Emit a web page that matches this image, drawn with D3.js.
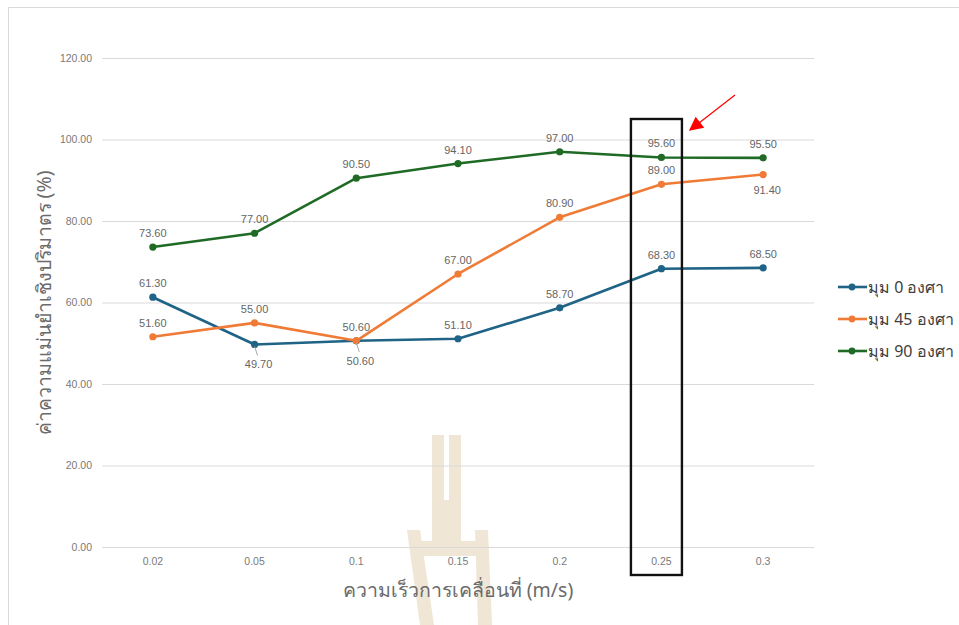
<!DOCTYPE html>
<html>
<head>
<meta charset="utf-8">
<script src="https://cdn.jsdelivr.net/npm/d3@7/dist/d3.min.js"></script>
<style>
  html, body { margin: 0; padding: 0; background: #fff; }
  svg { display: block; }
</style>
</head>
<body>
<svg id="chart" width="959" height="625"></svg>
<script>
// Speeds on the x axis (m/s)
const categories = ["0.02", "0.05", "0.1", "0.15", "0.2", "0.25", "0.3"];
// Series names
const seriesNames = ["มุม 0 องศา", "มุม 45 องศา", "มุม 90 องศา"];
// Volumetric accuracy (%) per series
const angle0 = [61.3, 49.7, 50.6, 51.1, 58.7, 68.3, 68.5];
const angle45 = [51.6, 55.0, 50.6, 67.0, 80.9, 89.0, 91.4];
const angle90 = [73.6, 77.0, 90.5, 94.1, 97.0, 95.6, 95.5];
// Y tick values
const yTicks = [0, 20, 40, 60, 80, 100, 120];
const highlighted = "0.25";

const colors = ["#1f6386", "#ef7b36", "#1f6b26"];
// where each data label sits relative to its point
const labelSide = [
  ["up", "down", "down", "up", "up", "up", "up"],
  ["up", "up", "up", "up", "up", "up", "down"],
  ["up", "up", "up", "up", "up", "up", "up"]
];

const svg = d3.select("#chart");
const W = 959, H = 625;

const x = d3.scaleBand().domain(categories).range([102, 814]);
const y = d3.scaleLinear().domain([0, 120]).range([547, 58]);

// chart frame
svg.append("path")
  .attr("d", `M8.5,${H} V7.5 H${W}`)
  .attr("fill", "none").attr("stroke", "#d9d9d9").attr("stroke-width", 1);

// faint emblem watermark behind the plot
const wm = svg.append("g").attr("fill", "#efe6d6");
wm.append("rect").attr("x", 432).attr("y", 435).attr("width", 12).attr("height", 106);
wm.append("rect").attr("x", 449).attr("y", 435).attr("width", 12).attr("height", 106);
wm.append("rect").attr("x", 432).attr("y", 500).attr("width", 29).attr("height", 41);
wm.append("polygon").attr("points", "407,530 420,530 434,625 420,625");
wm.append("polygon").attr("points", "475,530 488,530 492,625 478,625");
wm.append("rect").attr("x", 415).attr("y", 541).attr("width", 70).attr("height", 15);

// gridlines + y tick labels
const yAxis = d3.axisLeft(y).tickValues(yTicks).tickFormat(d3.format(".2f"))
  .tickSize(-(814 - 102)).tickPadding(10);
const gy = svg.append("g").attr("transform", "translate(102,0)").call(yAxis);
gy.select(".domain").remove();
gy.selectAll(".tick line").attr("stroke", "#d9d9d9").attr("stroke-width", 1);
gy.selectAll(".tick text")
  .attr("fill", "#7a7a7a").style("font-family", "Liberation Sans, Arial, sans-serif")
  .style("font-size", "10.5px");

// x tick labels
const xAxis = d3.axisBottom(x).tickSize(0).tickPadding(11);
const gx = svg.append("g").attr("transform", "translate(0,547)").call(xAxis);
gx.select(".domain").remove();
gx.selectAll(".tick text")
  .attr("fill", "#7a7a7a").style("font-family", "Liberation Sans, Arial, sans-serif")
  .style("font-size", "10.5px");

// axis titles
svg.append("text")
  .attr("x", 458).attr("y", 597).attr("text-anchor", "middle")
  .attr("fill", "#6b6b6b").style("font-family", "Noto Sans, sans-serif").style("font-size", "19.5px")
  .text("ความเร็วการเคลื่อนที่ (m/s)");
svg.append("text")
  .attr("transform", "translate(51,303) rotate(-90)").attr("text-anchor", "middle")
  .attr("fill", "#6b6b6b").style("font-family", "Noto Sans, sans-serif").style("font-size", "19.5px")
  .text("ค่าความแม่นยำเชิงปริมาตร (%)");

const allSeries = [angle0, angle45, angle90];
const cx = d => x(d) + x.bandwidth() / 2;
const line = d3.line().x((d, i) => cx(categories[i])).y(d => y(d));

// lines and markers
allSeries.forEach((vals, s) => {
  const g = svg.append("g");
  g.append("path").datum(vals).attr("d", line)
    .attr("fill", "none").attr("stroke", colors[s]).attr("stroke-width", 2.6)
    .attr("stroke-linejoin", "round");
  g.selectAll("circle").data(vals).join("circle")
    .attr("cx", (d, i) => cx(categories[i])).attr("cy", d => y(d)).attr("r", 3.6)
    .attr("fill", colors[s]);
});

// data labels
allSeries.forEach((vals, s) => {
  vals.forEach((v, i) => {
    const px = cx(categories[i]), py = y(v);
    const side = labelSide[s][i];
    const moved = side === "down" && s === 0;
    const lx = px + (side === "down" ? 4 : 0);
    const ly = side === "down" ? py + (moved ? 24 : 19) : py - 10;
    if (moved) {
      svg.append("line").attr("x1", px).attr("y1", py + 2).attr("x2", px + 3).attr("y2", py + 11)
        .attr("stroke", "#a6a6a6").attr("stroke-width", 1);
    }
    svg.append("text").attr("x", lx).attr("y", ly).attr("text-anchor", "middle")
      .attr("fill", "#666").style("font-family", "Liberation Sans, Arial, sans-serif")
      .style("font-size", "11px").text(d3.format(".2f")(v));
  });
});

// legend
const legend = svg.append("g");
seriesNames.forEach((name, s) => {
  const ly = 287 + s * 32;
  legend.append("line").attr("x1", 838).attr("x2", 867).attr("y1", ly).attr("y2", ly)
    .attr("stroke", colors[s]).attr("stroke-width", 2.6);
  legend.append("circle").attr("cx", 852).attr("cy", ly).attr("r", 3.4).attr("fill", colors[s]);
  legend.append("text").attr("x", 868).attr("y", ly).attr("dy", "0.35em")
    .attr("fill", "#404040").style("font-family", "Noto Sans, sans-serif").style("font-size", "16px")
    .text(name);
});

// highlight box around the 0.25 m/s column
const hx = cx(highlighted);
svg.append("rect")
  .attr("x", hx - 30.5).attr("y", 119).attr("width", 51).attr("height", 456)
  .attr("fill", "none").attr("stroke", "#111").attr("stroke-width", 2.4);

// red pointer arrow
svg.append("defs").append("marker")
  .attr("id", "arrowHead").attr("viewBox", "0 0 10 10").attr("refX", 9).attr("refY", 5)
  .attr("markerWidth", 16).attr("markerHeight", 14).attr("markerUnits", "userSpaceOnUse")
  .attr("orient", "auto")
  .append("path").attr("d", "M0,0 L10,5 L0,10 Z").attr("fill", "#f00");
svg.append("line")
  .attr("x1", 735).attr("y1", 95).attr("x2", 690).attr("y2", 130)
  .attr("stroke", "#f00").attr("stroke-width", 1.2).attr("marker-end", "url(#arrowHead)");
</script>
</body>
</html>
